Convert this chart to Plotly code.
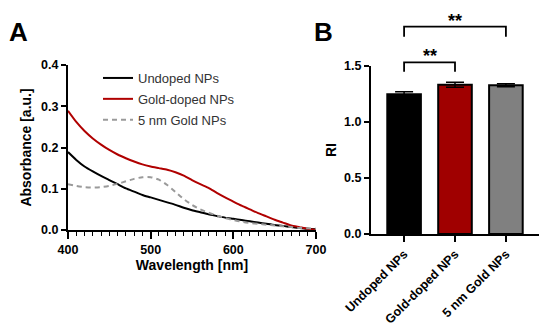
import plotly.graph_objects as go

# ---------------- data ----------------
wavelength = list(range(400, 701, 10))
undoped = [0.189, 0.170, 0.154, 0.142, 0.131, 0.121, 0.111, 0.101, 0.093, 0.085,
           0.079, 0.073, 0.067, 0.061, 0.054, 0.048, 0.043, 0.038, 0.034, 0.030,
           0.027, 0.024, 0.021, 0.018, 0.015, 0.012, 0.010, 0.007, 0.005, 0.003, 0.002]
gold_doped = [0.289, 0.262, 0.240, 0.222, 0.207, 0.194, 0.183, 0.174, 0.166, 0.159,
              0.154, 0.150, 0.146, 0.140, 0.132, 0.121, 0.111, 0.102, 0.090, 0.079,
              0.069, 0.059, 0.050, 0.041, 0.033, 0.025, 0.018, 0.011, 0.007, 0.003, 0.000]
gold_5nm = [0.111, 0.107, 0.104, 0.103, 0.104, 0.107, 0.112, 0.118, 0.124, 0.128,
            0.128, 0.122, 0.109, 0.092, 0.075, 0.061, 0.050, 0.042, 0.035, 0.029,
            0.024, 0.020, 0.017, 0.015, 0.013, 0.011, 0.009, 0.007, 0.005, 0.004, 0.003]

bar_categories = ["Undoped NPs", "Gold-doped NPs", "5 nm Gold NPs"]
ri_values = [1.247, 1.333, 1.328]
ri_errors = [0.022, 0.022, 0.014]
bar_colors = ["#000000", "#A00000", "#808080"]

# significance brackets: (from index, to index, top, leg bottom, label)
brackets = [(0, 1, 1.533, 1.449, "**"), (0, 2, 1.851, 1.762, "**")]

# ---------------- figure ----------------
FONT = "Liberation Sans, Arial, sans-serif"
OFF = 8  # page body margin of the html page
W, H = 550 - OFF, 335 - OFF


def px_x(p):
    return (p - OFF) / W


def px_y(p):
    return 1 - (p - OFF) / H


fig = go.Figure()

line_styles = [
    ("Undoped NPs", undoped, dict(color="#000000", width=2)),
    ("Gold-doped NPs", gold_doped, dict(color="#B00000", width=2)),
    ("5 nm Gold NPs", gold_5nm, dict(color="#9A9A9A", width=2, dash="5px,4px")),
]
for i, (name, vals, ln) in enumerate(line_styles):
    fig.add_trace(go.Scatter(x=wavelength, y=vals, mode="lines", name=name,
                             line=dict(shape="spline", smoothing=0.6, **ln),
                             legendgroup=f"g{i}", xaxis="x", yaxis="y"))

fig.add_trace(go.Bar(x=list(range(len(bar_categories))), y=ri_values,
                     marker=dict(color=bar_colors, line=dict(color="black", width=2)),
                     width=0.66,
                     error_y=dict(type="data", array=ri_errors, color="black",
                                  thickness=1.5, width=9),
                     showlegend=False, xaxis="x2", yaxis="y2"))

tickfont = dict(family=FONT, size=12.5, color="black", weight="bold")
titlefont = dict(family=FONT, size=14, color="black", weight="bold")

xr2 = [-0.65, 2.65]
yr2 = [0, 1.5]

fig.update_layout(
    width=W, height=H,
    margin=dict(l=0, r=0, t=0, b=0, autoexpand=False),
    paper_bgcolor="white", plot_bgcolor="white",
    showlegend=True,
    legend=dict(x=px_x(98), y=px_y(63), xanchor="left", yanchor="top",
                font=dict(family=FONT, size=13, color="#333"),
                bgcolor="rgba(0,0,0,0)", tracegroupgap=1),
    xaxis=dict(domain=[px_x(68), px_x(316)], range=[400, 700], anchor="y", automargin=False,
               tickvals=[400, 500, 600, 700], ticks="outside", ticklen=7,
               tickwidth=1.5, tickcolor="black", showline=True, linecolor="black",
               linewidth=2, showgrid=False, zeroline=False, tickfont=tickfont,
               minor=dict(dtick=10, ticks="outside", ticklen=4, tickwidth=1.2,
                          tickcolor="black", showgrid=False),
               title=dict(text="Wavelength [nm]", font=titlefont, standoff=4)),
    yaxis=dict(domain=[px_y(230), px_y(65)], range=[0, 0.4], anchor="x", automargin=False,
               tickvals=[0, 0.1, 0.2, 0.3, 0.4], ticktext=["0.0", "0.1", "0.2", "0.3", "0.4"],
               ticks="outside", ticklen=5, tickwidth=1.5, tickcolor="black",
               showline=True, linecolor="black", linewidth=2, showgrid=False,
               zeroline=False, tickfont=tickfont,
               title=dict(text="Absorbance [a.u.]", font=titlefont, standoff=6)),
    xaxis2=dict(domain=[px_x(371), px_x(539)], range=xr2, anchor="y2", automargin=False,
                tickvals=list(range(len(bar_categories))), ticktext=bar_categories,
                tickangle=-45, ticks="outside", ticklen=6, tickwidth=1.5,
                tickcolor="black", showline=True, linecolor="black", linewidth=2,
                showgrid=False, zeroline=False, tickfont=tickfont),
    yaxis2=dict(domain=[px_y(234), px_y(66)], range=yr2, anchor="x2", automargin=False,
                tickvals=[0, 0.5, 1.0, 1.5], ticktext=["0.0", "0.5", "1.0", "1.5"],
                ticks="outside", ticklen=5, tickwidth=1.5, tickcolor="black",
                showline=True, linecolor="black", linewidth=2, showgrid=False,
                zeroline=False, tickfont=tickfont,
                title=dict(text="RI", font=titlefont, standoff=4)),
)


def xd(v):
    return (v - xr2[0]) / (xr2[1] - xr2[0])


def yd(v):
    return (v - yr2[0]) / (yr2[1] - yr2[0])


for a, b, top, leg, label in brackets:
    fig.add_shape(type="path",
                  path=f"M{xd(a)},{yd(leg)} L{xd(a)},{yd(top)} L{xd(b)},{yd(top)} L{xd(b)},{yd(leg)}",
                  xref="x2 domain", yref="y2 domain",
                  line=dict(color="black", width=1.8))
    fig.add_annotation(x=xd((a + b) / 2), y=yd(top), xref="x2 domain", yref="y2 domain",
                       text=f"<b>{label}</b>", showarrow=False, yanchor="middle", yshift=6,
                       font=dict(family=FONT, size=18, color="black"))

for lab, px in [("A", 18), ("B", 323)]:
    fig.add_annotation(x=px_x(px), y=px_y(32), xref="paper", yref="paper", text=f"<b>{lab}</b>",
                       showarrow=False, xanchor="center", yanchor="middle",
                       font=dict(family=FONT, size=26, color="black"))

fig.write_html("out.html")
